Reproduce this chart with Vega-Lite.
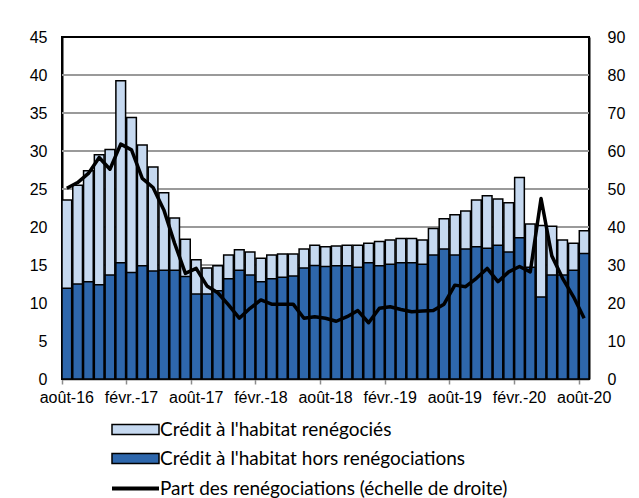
{
  "$schema": "https://vega.github.io/schema/vega-lite/v6.json",
  "width": 527,
  "height": 342,
  "autosize": {"type": "none"},
  "padding": {"left": 62, "top": 37, "right": 50, "bottom": 119},
  "background": "white",
  "config": {
    "view": {"stroke": "black", "strokeWidth": 2},
    "font": "Liberation Sans",
    "axis": {"labelFont": "Liberation Sans"}
  },
  "datasets": {
    "mois": [
      {"m": "août-16", "total": 23.55, "hors": 11.93, "part": 50.2},
      {"m": "sept.-16", "total": 25.5, "hors": 12.5, "part": 51.7},
      {"m": "oct.-16", "total": 27.4, "hors": 12.8, "part": 54.1},
      {"m": "nov.-16", "total": 29.5, "hors": 12.4, "part": 58.3},
      {"m": "déc.-16", "total": 30.2, "hors": 13.7, "part": 55.2},
      {"m": "janv.-17", "total": 39.25, "hors": 15.3, "part": 61.8},
      {"m": "févr.-17", "total": 34.4, "hors": 14.0, "part": 60.3},
      {"m": "mars-17", "total": 30.8, "hors": 14.9, "part": 52.8},
      {"m": "avr.-17", "total": 27.9, "hors": 14.2, "part": 50.4},
      {"m": "mai-17", "total": 24.5, "hors": 14.3, "part": 44.5},
      {"m": "juin-17", "total": 21.2, "hors": 14.3, "part": 35.7},
      {"m": "juil.-17", "total": 18.4, "hors": 13.5, "part": 27.8},
      {"m": "août-17", "total": 15.7, "hors": 11.2, "part": 29.1},
      {"m": "sept.-17", "total": 14.6, "hors": 11.2, "part": 24.5},
      {"m": "oct.-17", "total": 14.9, "hors": 11.6, "part": 22.7},
      {"m": "nov.-17", "total": 16.3, "hors": 13.2, "part": 19.5},
      {"m": "déc.-17", "total": 17.0, "hors": 14.3, "part": 16.0},
      {"m": "janv.-18", "total": 16.7, "hors": 13.7, "part": 18.6},
      {"m": "févr.-18", "total": 15.9, "hors": 12.8, "part": 20.8},
      {"m": "mars-18", "total": 16.3, "hors": 13.2, "part": 19.7},
      {"m": "avr.-18", "total": 16.45, "hors": 13.4, "part": 19.7},
      {"m": "mai-18", "total": 16.45, "hors": 13.55, "part": 19.7},
      {"m": "juin-18", "total": 17.1, "hors": 14.6, "part": 16.0},
      {"m": "juil.-18", "total": 17.6, "hors": 14.95, "part": 16.4},
      {"m": "août-18", "total": 17.4, "hors": 14.8, "part": 16.0},
      {"m": "sept.-18", "total": 17.5, "hors": 14.9, "part": 15.2},
      {"m": "oct.-18", "total": 17.6, "hors": 14.9, "part": 16.4},
      {"m": "nov.-18", "total": 17.6, "hors": 14.7, "part": 18.0},
      {"m": "déc.-18", "total": 17.85, "hors": 15.3, "part": 14.8},
      {"m": "janv.-19", "total": 18.1, "hors": 14.9, "part": 18.6},
      {"m": "févr.-19", "total": 18.3, "hors": 15.1, "part": 19.0},
      {"m": "mars-19", "total": 18.5, "hors": 15.3, "part": 18.3},
      {"m": "avr.-19", "total": 18.5, "hors": 15.3, "part": 17.7},
      {"m": "mai-19", "total": 18.3, "hors": 15.1, "part": 17.9},
      {"m": "juin-19", "total": 19.8, "hors": 16.3, "part": 18.0},
      {"m": "juil.-19", "total": 21.1, "hors": 17.1, "part": 19.7},
      {"m": "août-19", "total": 21.6, "hors": 16.3, "part": 24.7},
      {"m": "sept.-19", "total": 22.1, "hors": 17.1, "part": 24.3},
      {"m": "oct.-19", "total": 23.55, "hors": 17.4, "part": 26.5},
      {"m": "nov.-19", "total": 24.1, "hors": 17.2, "part": 29.1},
      {"m": "déc.-19", "total": 23.7, "hors": 17.6, "part": 25.6},
      {"m": "janv.-20", "total": 23.2, "hors": 16.7, "part": 28.2},
      {"m": "févr.-20", "total": 26.5, "hors": 18.6, "part": 29.6},
      {"m": "mars-20", "total": 20.4, "hors": 14.7, "part": 28.2},
      {"m": "avr.-20", "total": 20.2, "hors": 10.8, "part": 47.5},
      {"m": "mai-20", "total": 20.1, "hors": 13.7, "part": 32.4},
      {"m": "juin-20", "total": 18.3, "hors": 13.7, "part": 26.5},
      {"m": "juil.-20", "total": 17.85, "hors": 14.3, "part": 21.7},
      {"m": "août-20", "total": 19.5, "hors": 16.5, "part": 16.0}
    ],
    "grille": [
      {"g": 5}, {"g": 10}, {"g": 15}, {"g": 20}, {"g": 25},
      {"g": 30}, {"g": 35}, {"g": 40}
    ]
  },
  "layer": [
    {
      "data": {"name": "grille"},
      "mark": {"type": "rule", "stroke": "#9a9a9a", "strokeWidth": 2, "opacity": 1},
      "encoding": {
        "y": {"field": "g", "type": "quantitative", "scale": {"domain": [0, 45]}, "axis": null}
      }
    },
    {
      "data": {"name": "mois"},
      "encoding": {
        "x": {
          "field": "m",
          "type": "ordinal",
          "sort": null,
          "scale": {"type": "band", "paddingInner": 0.1, "paddingOuter": 0},
          "axis": {
            "values": ["août-16", "févr.-17", "août-17", "févr.-18", "août-18", "févr.-19", "août-19", "févr.-20", "août-20"],
            "bandPosition": 0,
            "labelAngle": 0,
            "labelFont": "Liberation Sans",
            "labelFontSize": 16,
            "labelColor": "black",
            "labelPadding": 5,
            "domainColor": "#8c8c8c",
            "domainWidth": 2,
            "tickColor": "#8c8c8c",
            "tickWidth": 1.5,
            "tickSize": 5,
            "grid": false,
            "title": null
          }
        }
      },
      "layer": [
        {
          "mark": {"type": "bar", "stroke": "black", "strokeWidth": 1.5},
          "encoding": {
            "y": {
              "field": "total",
              "type": "quantitative",
              "scale": {"domain": [0, 45]},
              "axis": {
                "values": [0, 5, 10, 15, 20, 25, 30, 35, 40, 45],
                "labelOverlap": false,
                "grid": false,
                "domainColor": "black",
                "domainWidth": 2,
                "tickSize": 0,
                "labelFont": "Liberation Sans",
                "labelFontSize": 16,
                "labelColor": "black",
                "labelPadding": 15,
                "title": null
              }
            },
            "fill": {
              "datum": "Crédit à l'habitat renégociés",
              "scale": {
                "domain": ["Crédit à l'habitat renégociés", "Crédit à l'habitat hors renégociations"],
                "range": ["#c6d9f0", "#2e67ac"]
              },
              "legend": {
                "orient": "none",
                "legendX": 64,
                "legendY": 383,
                "title": null,
                "symbolType": "M-4.7,-1H4.7V1H-4.7Z",
                "symbolSize": 100,
                "symbolStrokeColor": "black",
                "symbolStrokeWidth": 1.5,
                "labelFont": "Lato",
                "labelFontSize": 19,
                "labelColor": "black",
                "labelOffset": 15,
                "rowPadding": 9,
                "labelLimit": 500
              }
            }
          }
        },
        {
          "mark": {"type": "bar", "stroke": "black", "strokeWidth": 1.5},
          "encoding": {
            "y": {
              "field": "hors",
              "type": "quantitative",
              "axis": {
                "values": [0, 5, 10, 15, 20, 25, 30, 35, 40, 45],
                "labelOverlap": false,
                "grid": false,
                "domainColor": "black",
                "domainWidth": 2,
                "tickSize": 0,
                "labelFont": "Liberation Sans",
                "labelFontSize": 16,
                "labelColor": "black",
                "labelPadding": 15,
                "title": null
              }
            },
            "fill": {"datum": "Crédit à l'habitat hors renégociations"}
          }
        }
      ]
    },
    {
      "data": {"name": "mois"},
      "mark": {"type": "line", "strokeWidth": 3.5, "strokeJoin": "round"},
      "encoding": {
        "x": {"field": "m", "type": "ordinal", "sort": null},
        "y": {
          "field": "part",
          "type": "quantitative",
          "scale": {"domain": [0, 90]},
          "axis": {
            "orient": "right",
            "values": [0, 10, 20, 30, 40, 50, 60, 70, 80, 90],
            "labelOverlap": false,
            "grid": false,
            "domainColor": "black",
            "domainWidth": 2,
            "tickSize": 0,
            "labelFont": "Liberation Sans",
            "labelFontSize": 16,
            "labelColor": "black",
            "labelPadding": 18,
            "title": null
          }
        },
        "stroke": {
          "datum": "Part des renégociations (échelle de droite)",
          "scale": {"range": ["black"]},
          "legend": {
            "orient": "none",
            "legendX": 64,
            "legendY": 442,
            "title": null,
            "symbolType": "M-4.7,0H4.7",
            "symbolSize": 100,
            "symbolStrokeWidth": 4,
            "labelFont": "Lato",
            "labelFontSize": 19,
            "labelColor": "black",
            "labelOffset": 15,
            "labelLimit": 500
          }
        }
      }
    }
  ],
  "resolve": {"scale": {"y": "independent"}}
}
